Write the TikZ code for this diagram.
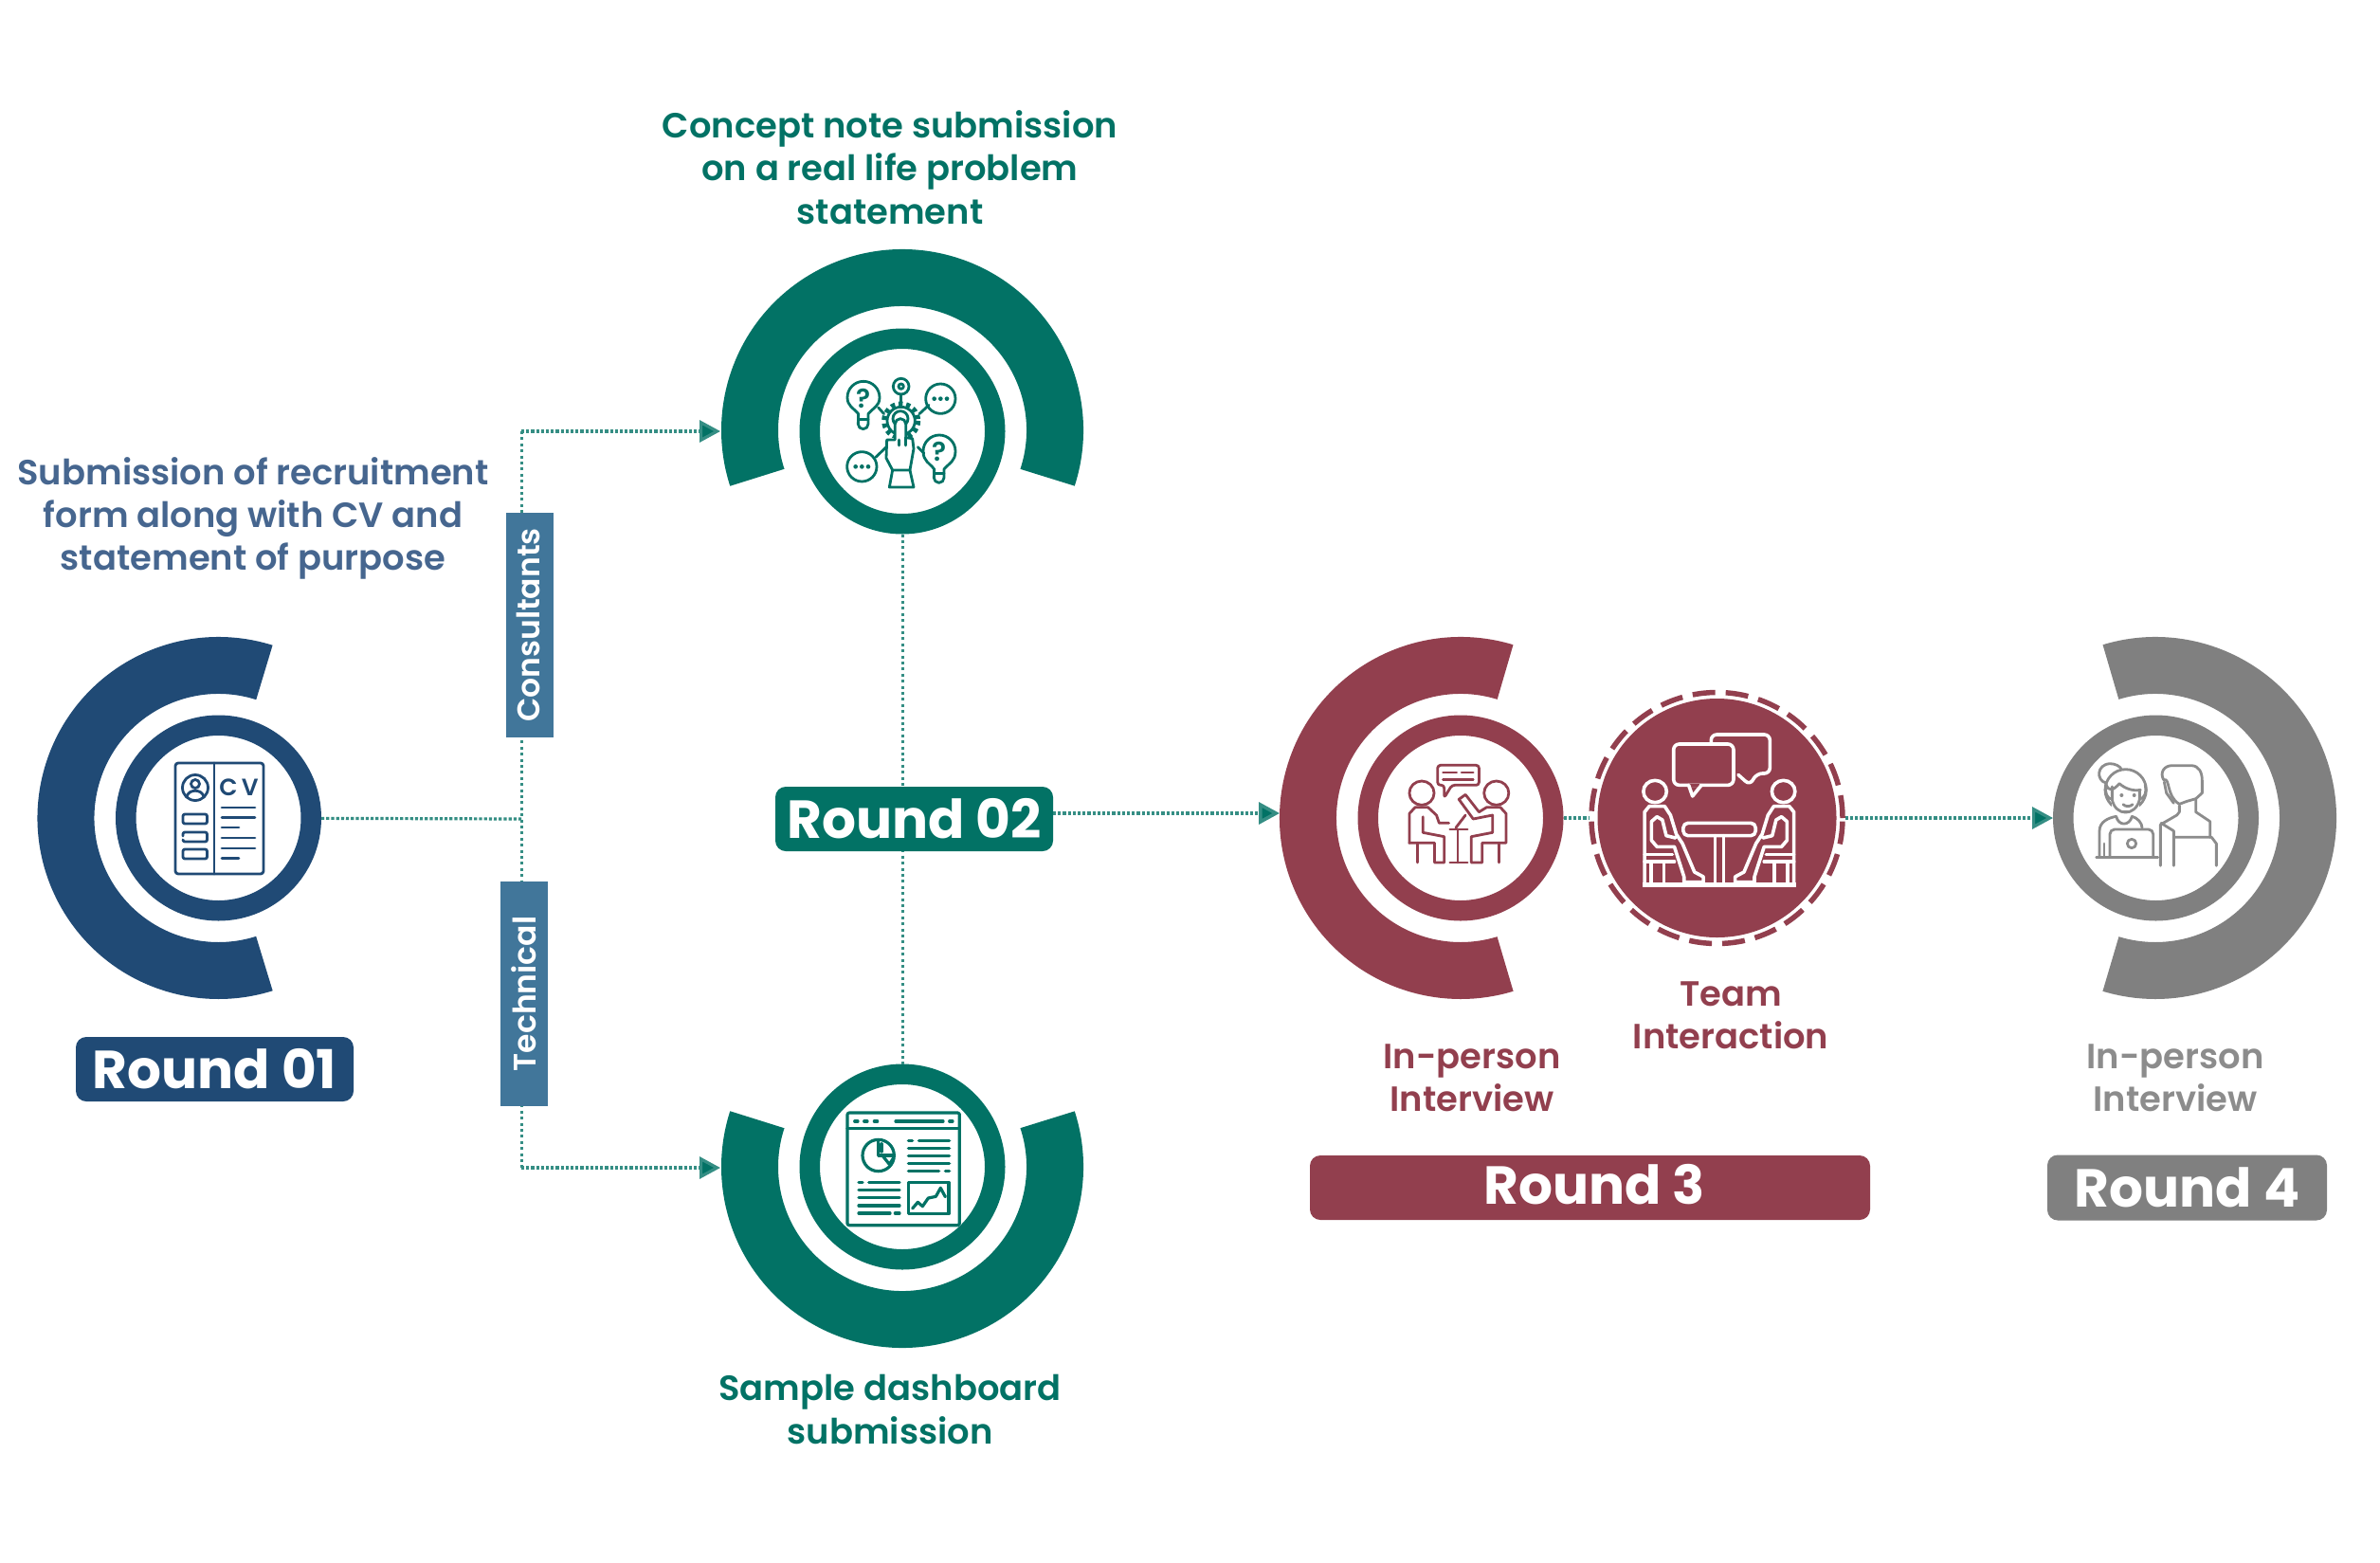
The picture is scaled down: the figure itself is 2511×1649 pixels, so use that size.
\documentclass[tikz,border=0pt]{standalone}
\usepackage{fontspec}
\usepackage{tikz}
\usetikzlibrary{arrows.meta,calc}
\setmainfont{Poppins}
\newfontfamily\semi{Poppins SemiBold}
\newfontfamily\med{Poppins Medium}
\newfontfamily\bld{Poppins Bold}
\definecolor{navy}{HTML}{204A75}
\definecolor{tealc}{HTML}{027265}
\definecolor{maroon}{HTML}{923F4E}
\definecolor{greyc}{HTML}{808080}
\definecolor{steel}{HTML}{41769A}
\definecolor{bluetxt}{HTML}{46668F}
\definecolor{icong}{HTML}{8C8C8C}
\tikzset{
  ring/.style={circle,draw=#1,line width=21.5pt,minimum size=195.5pt,inner sep=0pt,fill=white},
  band/.style={draw=#1,line width=60pt,line cap=butt},
  flowdot/.style={draw=tealc!80,line width=3.2pt,dash pattern=on 3.2pt off 2pt},
  flowsparse/.style={draw=tealc!80,line width=3pt,dash pattern=on 3pt off 3.4pt},
  tip/.style={-{Triangle[length=22pt,width=23pt,fill=tealc]}},
  roundbox/.style={fill=#1,rounded corners=11pt,text=white,inner sep=0pt,font=\bld\fontsize{56.5}{60}\selectfont},
  tagbox/.style={fill=steel,text=white,rotate=90,minimum width=237pt,minimum height=50pt,inner sep=0pt,font=\semi\fontsize{33}{36}\selectfont},
  caption/.style={text=#1,align=center,inner sep=0pt,font=\semi\fontsize{36.9}{45.3}\selectfont},
  ico/.style={line width=#1,line cap=round,line join=round},
}
\newcommand{\bandarc}[5]{\draw[band=#1] (#2,#3) ++(#4:161) arc[start angle=#4,end angle=#5,radius=161];}
\newcommand{\teamperson}{%
  \draw (995,525) ellipse[x radius=30,y radius=35];
  \draw (968,815) -- (968,590) -- (980,572) -- (1020,572) -- (1035,600) -- (1050,660) -- (1066,690) -- (1097,780) -- (1120,795) -- (1120,812) -- (1070,812) -- (1070,795) -- (1045,700) -- (1000,700) -- (986,680) -- (986,620) -- (1000,605) -- (1014,615) -- (1024,665) -- (1048,672);
  \draw (968,725) -- (1040,725);
  \draw (968,747) -- (1045,747);
  \draw (985,747) -- (985,815);
  \draw (1018,747) -- (1018,815);
}
\newcommand{\smallperson}{%
  \draw (392,530) ellipse[x radius=32,y radius=38];
  \draw (380,750) -- (380,688);
  \draw (360,688) -- (360,595) -- (375,575) -- (408,575) -- (430,600) -- (437,625) -- (462,625);
  \draw (360,688) -- (425,688) -- (425,750) -- (450,750) -- (450,668) -- (395,655) -- (395,605);
}
\begin{document}
\begin{tikzpicture}[x=1pt,y=-1pt]
\useasboundingbox (0,0) rectangle (2511,1649);
\fill[white] (0,0) rectangle (2511,1649);

% junctions
\coordinate (hub) at (550,864);
\coordinate (upj) at (550,455);
\coordinate (dnj) at (550,1232);
\coordinate (c2in) at (760,455);
\coordinate (c4in) at (760,1232);
\coordinate (r2out) at (1111,858);
\coordinate (r3in) at (1350,858);

% outer bands
\bandarc{navy}{230.5}{863}{-72.5}{-287.5}
\bandarc{tealc}{952}{454}{18}{-198}
\bandarc{tealc}{952}{1231}{-18}{198}
\bandarc{maroon}{1541}{863}{-73}{-287}
\bandarc{greyc}{2274}{863}{-107}{107}

% rings
\node[ring=navy] (r1) at (230.5,863) {};
\node[ring=tealc] (c2) at (952,455) {};
\node[ring=tealc] (c4) at (952,1231) {};
\node[ring=maroon] (c3) at (1541,863) {};
\node[ring=greyc] (c5) at (2274.5,863) {};
\node[circle,fill=maroon,minimum size=252pt,inner sep=0pt] (team) at (1811.5,863) {};
\node[circle,draw=maroon,line width=5.5pt,dash pattern=on 24pt off 11pt,minimum size=265pt,inner sep=0pt] (teamdash) at (1811.5,863) {};

% connectors
\draw[flowdot] (r1) -- (hub);
\draw[flowsparse] (upj) -- (dnj);
\draw[flowdot,tip] (upj) -- (c2in);
\draw[flowdot,tip] (dnj) -- (c4in);
\draw[flowsparse] (c2.south) -- (c4.north);
\draw[flowdot,line width=3.6pt,tip] (r2out) -- (r3in);
\draw[flowdot] (c3.east) -- (teamdash.west);
\draw[flowdot,tip] (teamdash.east) -- (c5.west);

% tags
\node[tagbox] (cons) at (558.5,659.5) {\raisebox{2pt}{Consultants}};
\node[tagbox] (tech) at (553,1048.5) {\raisebox{1pt}{Technical}};

% round labels
\node[roundbox=navy,minimum width=293pt,minimum height=68pt] (lab1) at (226.5,1128) {\raisebox{1pt}{Round 01}};
\node[roundbox=tealc,minimum width=293pt,minimum height=68pt] (lab2) at (964.5,864) {Round 02};
\node[roundbox=maroon,minimum width=591pt,minimum height=68pt] (lab3) at (1677.5,1253) {};
\node[text=white,inner sep=0pt,font=\bld\fontsize{56.5}{60}\selectfont] (lab3t) at (1682,1250) {Round 3};
\node[roundbox=greyc,minimum width=295pt,minimum height=69pt] (lab4) at (2307.5,1253) {Round 4};

% captions
\node[caption=bluetxt] (t1) at (267,547) {Submission of recruitment\\form along with CV and\\statement of purpose};
\node[caption=tealc] (t2) at (939,176.5) {Concept note submission\\on a real life problem\\statement};
\node[caption=tealc] (t3) at (939,1487) {Sample dashboard\\submission};
\node[caption=maroon] (t4) at (1826,1071.5) {Team\\Interaction};
\node[caption=maroon] (t5) at (1553,1137.5) {In-person\\Interview};
\node[caption=icong] (t6) at (2295,1137.5) {In-person\\Interview};

% CV icon
\begin{scope}[draw=navy,ico=2.8pt]
  \draw[rounded corners=3pt] (185,805) rectangle (278,922);
  \draw (226,805) -- (226,922);
  \draw (206,831) circle[radius=13.5];
  \draw (206,827) circle[radius=4.5];
  \draw (197,841) .. controls (198,832) and (214,832) .. (215,841);
  \foreach \yy/\xe in {852/269,862.5/269,873/252,884/269,895/269,905.5/252} \draw (234,\yy) -- (\xe,\yy);
  \draw[rounded corners=2pt] (193,859) rectangle (218.5,869);
  \draw[rounded corners=2pt] (193,896) rectangle (218.5,906);
  \draw[rounded corners=2pt] (193,882) -- (193,878) -- (218.5,878) -- (218.5,888) -- (193,888) -- (193,886);
  \node[text=navy,inner sep=0pt,font=\semi\fontsize{25}{25}\selectfont] (cvt) at (252,831) {C\,V};
\end{scope}

% Concept icon
\begin{scope}[shift={(740,240)},scale=1/3,draw=tealc,ico=2.8pt]
  \draw (497,590) .. controls (480,570) and (462,565) .. (462,538) arc[start angle=180,end angle=360,radius=51] .. controls (564,565) and (545,570) .. (528,590) -- (528,622) arc[start angle=0,end angle=180,radius=16] -- cycle;
  \draw (497,608) -- (528,608);
  \node[text=tealc,inner sep=0pt,font=\semi\fontsize{28}{28}\selectfont] (q1) at (512,540) {?};
  \draw (632,503) circle[radius=25];
  \draw (632,503) circle[radius=8];
  \draw (632,528) -- (632,552);
  \draw[line width=5pt,line cap=butt,dash pattern=on 4.4pt off 3.8pt] (632,612) circle[radius=54];
  \draw (632,612) circle[radius=44];
  \draw (630,605) circle[radius=24];
  \draw (757,542) circle[radius=47];
  \draw (508,757) circle[radius=47];
  \foreach \dd in {-20,0,20} {\fill[tealc] (757+\dd,542) circle[radius=7]; \fill[tealc] (508+\dd,757) circle[radius=7];}
  \draw (560,570) -- (578,590);
  \draw (690,590) -- (720,562);
  \draw (552,727) -- (585,695);
  \draw (685,695) -- (705,715);
  \draw (737,765) .. controls (722,745) and (702,740) .. (702,708) arc[start angle=180,end angle=360,radius=51] .. controls (804,740) and (785,745) .. (768,765) -- (768,792) arc[start angle=0,end angle=180,radius=16] -- cycle;
  \draw (737,778) -- (768,778);
  \node[text=tealc,inner sep=0pt,font=\semi\fontsize{28}{28}\selectfont] (q2) at (752,710) {?};
  \fill[white] (588,665) rectangle (678,765);
  \draw[fill=white] (613,672) -- (613,622) arc[start angle=180,end angle=360,radius=17] -- (647,665) -- (668,668) -- (672,700) -- (660,768) -- (605,768) -- (585,730) -- (587,672) -- cycle;
  \draw (625,672) -- (625,690);
  \draw (647,665) -- (647,690);
  \draw (605,768) -- (595,822) -- (672,822) -- (660,768);
\end{scope}

% Dashboard icon
\begin{scope}[shift={(740,1100)},scale=1/3,draw=tealc,ico=3.2pt]
  \draw[rounded corners=2pt] (462,222) rectangle (817,578);
  \draw (462,272) -- (817,272);
  \foreach \xx in {490,520,552} \draw (\xx-5,249) -- (\xx+5,249);
  \draw (615,249) -- (765,249);
  \draw (785,249) -- (795,249);
  \draw (560,357) circle[radius=50];
  \draw (560,307) -- (560,357) -- (610,357);
  \draw (570,345) -- (570,320);
  \draw (575,360) -- (595,385) -- (608,365);
  \draw (655,310) -- (668,310);
  \draw (688,310) -- (785,310);
  \foreach \yy in {334,358,382} \draw (655,\yy) -- (785,\yy);
  \draw (655,406) -- (752,406);
  \draw (772,406) -- (785,406);
  \draw (498,442) -- (510,442);
  \draw (530,442) -- (627,442);
  \foreach \yy in {467,491,516} \draw (498,\yy) -- (627,\yy);
  \draw (498,540) -- (597,540);
  \draw (613,540) -- (627,540);
  \draw (655,442) rectangle (783,542);
  \draw (668,525) -- (685,505) -- (700,518) -- (718,492) -- (742,487) -- (757,460) -- (772,488);
\end{scope}

% Round 3 small icon
\begin{scope}[shift={(1340,660)},xscale=1/2.45,yscale=1/3,draw=maroon,ico=2.8pt]
  \smallperson
  \draw (585,530) ellipse[x radius=32,y radius=38];
  \draw[rounded corners=3pt] (450,505) -- (433,505) -- (433,442) -- (540,442) -- (540,505) -- (470,505) -- (450,545) -- cycle;
  \draw (447,465) -- (482,465);
  \draw (495,465) -- (525,465);
  \draw (447,488) -- (525,488);
  \draw (610,688) -- (610,595) -- (595,575) -- (560,575) -- (540,590) -- (505,535) -- (488,550) -- (525,612) -- (575,600) -- (575,655) -- (520,668) -- (520,750) -- (548,750) -- (548,688) -- (610,688);
  \draw (592,688) -- (592,750);
  \draw (465,645) -- (510,645);
  \draw (480,640) -- (505,600);
  \draw (485,645) -- (485,750);
  \draw (465,750) -- (510,750);
\end{scope}

% Team icon
\begin{scope}[shift={(1340,660)},xscale=1/2.45,yscale=1/3,draw=white,ico=3.6pt]
  \teamperson
  \begin{scope}[shift={(2322,0)},xscale=-1]
    \teamperson
  \end{scope}
  \draw[rounded corners=5pt] (1068,625) rectangle (1255,665);
  \draw (1150,665) -- (1150,815);
  \draw (1172,665) -- (1172,815);
  \draw[line width=4.5pt,line cap=butt] (962,820) -- (1360,820);
  \draw[rounded corners=6pt] (1140,370) -- (1140,345) -- (1292,345) -- (1292,468) -- (1258,468) -- (1240,505) -- (1210,472);
  \draw[rounded corners=6pt] (1043,375) rectangle (1198,505);
  \fill[maroon] (1080,500) rectangle (1110,510);
  \draw (1082,505) -- (1092,540) -- (1115,505);
\end{scope}

% Round 4 icon
\begin{scope}[shift={(2100,660)},scale=1/3,draw=icong,ico=2.8pt]
  \draw (365,498) .. controls (335,490) and (335,440) .. (378,437) .. controls (395,437) and (410,445) .. (415,455);
  \draw (428,520) circle[radius=65];
  \draw[fill=white,draw=none] (385,500) rectangle (472,585);
  \draw (365,500) .. controls (375,530) and (390,520) .. (408,500) .. controls (425,515) and (450,525) .. (475,520) ;
  \draw (385,510) -- (385,550) .. controls (395,605) and (460,605) .. (472,550) -- (472,520);
  \draw (365,505) .. controls (360,525) and (370,550) .. (385,550);
  \draw (490,505) .. controls (495,525) and (490,545) .. (472,550);
  \fill[icong] (415,537) circle[radius=6];
  \fill[icong] (455,537) circle[radius=6];
  \draw (420,566) .. controls (428,574) and (442,574) .. (450,566);
  \draw (345,730) -- (345,650) .. controls (345,620) and (375,608) .. (398,604);
  \draw (398,604) .. controls (405,635) and (440,635) .. (448,604);
  \draw (448,604) .. controls (465,608) and (480,625) .. (480,640);
  \draw[rounded corners=5pt] (378,730) -- (378,645) -- (515,645) -- (515,730);
  \draw (447,690) circle[radius=14];
  \draw (335,733) -- (530,733);
  \draw (360,690) -- (360,730);
  \draw (538,760) -- (538,630) -- (590,600) -- (598,590) -- (598,570);
  \draw (650,548) -- (650,590) -- (695,620) -- (695,670);
  \draw (580,760) -- (580,650) -- (540,625);
  \draw (580,670) -- (700,670) -- (715,690) -- (715,760);
  \draw (548,488) .. controls (535,465) and (550,443) .. (575,443) -- (635,443) .. controls (660,443) and (670,465) .. (670,490) -- (670,530) -- (650,548) -- (622,556);
  \draw (548,488) .. controls (570,480) and (555,540) .. (598,565) -- (622,556) ;
  \draw (550,495) -- (557,530) -- (580,562);
\end{scope}
\end{tikzpicture}
\end{document}
